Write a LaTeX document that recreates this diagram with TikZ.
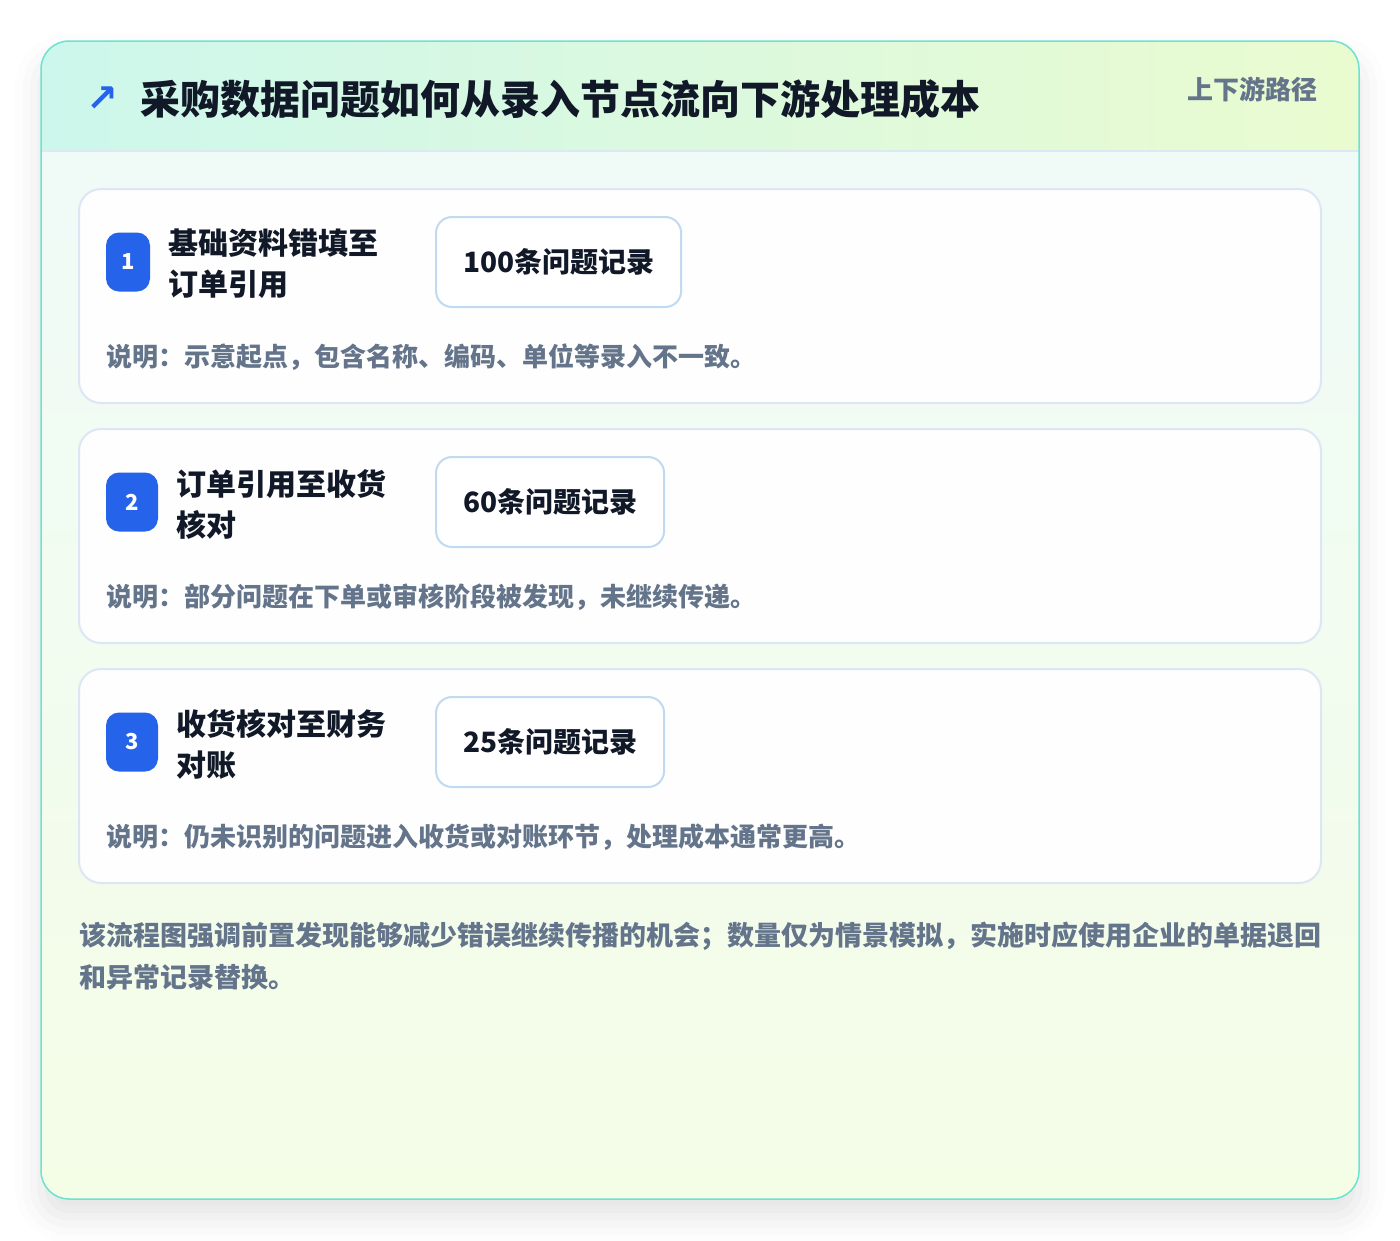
\documentclass[tikz,border=0pt]{standalone}
\usepackage{fontspec}
\setmainfont{Noto Sans CJK SC}
\newfontfamily\symfont{DejaVu Sans}
\usetikzlibrary{shadows.blur}
\definecolor{cardedge}{HTML}{6CE3D0}
\definecolor{headl}{HTML}{CDF7EC}
\definecolor{headr}{HTML}{EAFBD0}
\definecolor{bodytop}{HTML}{F0FBF8}
\definecolor{bodybot}{HTML}{F4FDE6}
\definecolor{headline}{HTML}{DCE8F2}
\definecolor{stepedge}{HTML}{DCE6F4}
\definecolor{stepfill}{HTML}{FDFEFD}
\definecolor{badgeblue}{HTML}{2563EB}
\definecolor{pilledge}{HTML}{C2D9F2}
\definecolor{ink}{HTML}{111827}
\definecolor{slate}{HTML}{64748B}
\begin{document}
\begin{tikzpicture}[x=1pt,y=-1pt,line join=round,line cap=round]
  \tikzset{stepcard/.style={draw=stepedge,line width=2pt,fill=stepfill,rounded corners=22pt},
    badge/.style={fill=badgeblue,rounded corners=13pt,minimum height=59pt,inner sep=0,
      text=white,font=\fontsize{22}{22}\selectfont\bfseries},
    steplabel/.style={anchor=west,align=left,inner sep=0,text=ink,
      font=\fontsize{30}{41}\selectfont\bfseries},
    pill/.style={anchor=west,draw=pilledge,line width=2pt,fill=white,rounded corners=16pt,
      minimum height=90pt,inner xsep=27pt,text=ink,font=\fontsize{28}{28}\selectfont\bfseries},
    stepnote/.style={anchor=west,inner sep=0,text=slate,font=\fontsize{26}{26}\selectfont\bfseries}}
  \useasboundingbox (0,0) rectangle (1400,1240);
  % outer card with header band
  \path[fill=bodybot,rounded corners=28pt,
    blur shadow={shadow xshift=0pt,shadow yshift=-18pt,shadow blur radius=26pt,shadow opacity=11}]
    (41,41) rectangle (1359,1199);
  \begin{scope}
    \clip[rounded corners=28pt] (41,41) rectangle (1359,1199);
    \shade[left color=headl,right color=headr] (41,41) rectangle (1359,151);
    \shade[top color=bodytop,bottom color=bodybot] (41,151) rectangle (1359,1199);
  \end{scope}
  \draw[headline,line width=2pt] (41,151) -- (1359,151);
  \draw[cardedge,line width=1.5pt,rounded corners=28pt] (41,41) rectangle (1359,1199);
  \node[text=badgeblue,inner sep=0,font=\symfont\bfseries\fontsize{38}{38}\selectfont] (icon) at (102,99) {↗};
  \node[anchor=west,inner sep=0,text=ink,font=\fontsize{40}{40}\selectfont\bfseries] (title) at (140,99)
    {采购数据问题如何从录入节点流向下游处理成本};
  \node[anchor=east,inner sep=0,text=slate,font=\fontsize{26}{26}\selectfont\bfseries] (tag) at (1318,89)
    {上下游路径};
  % three steps
  \foreach \k/\bw/\lx/\lineA/\lineB/\cnt/\desc in {
    0/44/168/基础资料错填至/订单引用/100/示意起点，包含名称、编码、单位等录入不一致。,
    1/52/176/订单引用至收货/核对/60/部分问题在下单或审核阶段被发现，未继续传递。,
    2/52/176/收货核对至财务/对账/25/仍未识别的问题进入收货或对账环节，处理成本通常更高。}{
    \pgfmathsetmacro\yy{240*\k}
    \pgfmathtruncatemacro\num{\k+1}
    \path[stepcard] (79,{189+\yy}) rectangle (1321,{403+\yy});
    \node[badge,minimum width=\bw pt] (badge\k) at ({106+\bw/2},{262+\yy}) {\num};
    \node[steplabel] (label\k) at (\lx,{264+\yy}) {\lineA\\\lineB};
    \node[pill] (pill\k) at (435,{262+\yy}) {{\cnt}条问题记录};
    \node[stepnote] (note\k) at (106,{357+\yy}) {说明：\desc};
  }
  \node[anchor=west,align=left,inner sep=0,text=slate,font=\fontsize{27}{42}\selectfont\bfseries] (summary)
    at (79,956) {该流程图强调前置发现能够减少错误继续传播的机会；数量仅为情景模拟，实施时应使用企业的单据退回\\和异常记录替换。};
\end{tikzpicture}
\end{document}
